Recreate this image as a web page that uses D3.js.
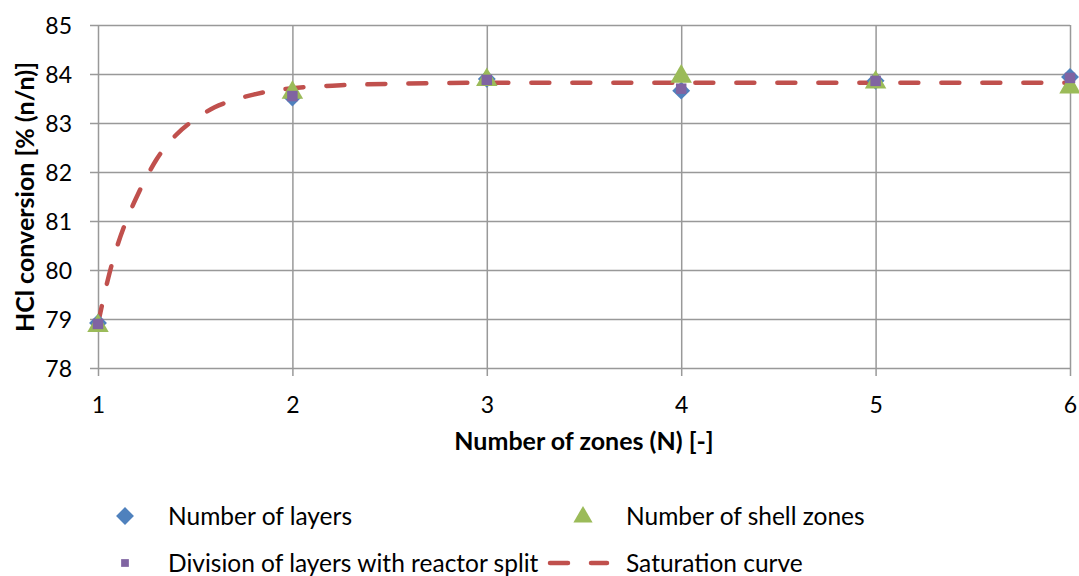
<!DOCTYPE html>
<html><head><meta charset="utf-8">
<script src="https://cdn.jsdelivr.net/npm/d3@7"></script>
<style>
html,body{margin:0;padding:0;background:#fff;}
text{font-family:Lato,"Open Sans",sans-serif;fill:#000;}
</style></head>
<body><svg id="chart" width="1079" height="576"></svg>
<script>
const zones = [1, 2, 3, 4, 5, 6];
const layers = [78.92, 83.52, 83.90, 83.66, 83.86, 83.94];
const shellZones = [78.88, 83.64, 83.90, 83.97, 83.85, 83.75];
const divisionSplit = [78.90, 83.55, 83.88, 83.70, 83.86, 83.92];
const curveX = [1, 1.03, 1.06, 1.1, 1.15, 1.2, 1.25, 1.3, 1.4, 1.5, 1.6, 1.7, 1.8, 1.9, 2, 2.25, 2.5, 3, 4, 5, 6];
const curveY = [78.9, 79.45, 79.95, 80.5, 81.05, 81.5, 81.9, 82.25, 82.75, 83.08, 83.32, 83.47, 83.58, 83.66, 83.71, 83.77, 83.80, 83.82, 83.82, 83.82, 83.82];
const yTicks = [78, 79, 80, 81, 82, 83, 84, 85];
const xTicks = [1, 2, 3, 4, 5, 6];
const legendItems = ["Number of layers", "Number of shell zones", "Division of layers with reactor split", "Saturation curve"];
const xTitle = "Number of zones (N) [-]";
const yTitle = "HCl conversion [% (n/n)]";

const C = {blue:"#4F81BD", green:"#9BBB59", purple:"#8064A2", red:"#C0504D", grid:"#999999"};
const svg = d3.select("#chart");
const x = d3.scaleLinear().domain([1, 6]).range([98, 1070]);
const y = d3.scaleLinear().domain([78, 85]).range([368, 25]);

// horizontal gridlines (y axis with long ticks)
const yAxis = d3.axisLeft(y).tickValues(yTicks).tickSize(-(1070 - 90)).tickPadding(0).tickFormat(d3.format("d"));
const gy = svg.append("g").attr("transform", "translate(90,0)").call(yAxis);
gy.select(".domain").remove();
gy.selectAll("line").attr("stroke", C.grid).attr("stroke-width", 1.5);
gy.selectAll("text").attr("x", -18).attr("font-size", 23).attr("dy", "0.35em");

// vertical gridlines
const xAxis = d3.axisBottom(x).tickValues(xTicks).tickSize(-(368 - 25)).tickFormat(d3.format("d")).tickSizeOuter(0);
const gx = svg.append("g").attr("transform", "translate(0,368)").call(xAxis);
gx.select(".domain").remove();
gx.selectAll("line").attr("stroke", C.grid).attr("stroke-width", 1.5).attr("y1", 8);
gx.selectAll("text").attr("y", 45).attr("dy", 0).attr("font-size", 23);

// axis titles
svg.append("text").attr("x", 584).attr("y", 450).attr("text-anchor", "middle")
  .attr("font-size", 25).attr("font-weight", "bold").text(xTitle);
svg.append("text").attr("transform", "translate(34,197) rotate(-90)").attr("text-anchor", "middle")
  .attr("font-size", 25).attr("font-weight", "bold").text(yTitle);

// saturation curve
const line = d3.line().x((d, i) => x(curveX[i])).y(d => y(d)).curve(d3.curveMonotoneX);
svg.append("path").datum(curveY).attr("d", line).attr("fill", "none")
  .attr("stroke", C.red).attr("stroke-width", 4.5).attr("stroke-linecap", "round")
  .attr("stroke-dasharray", "18,23");

const diamond = d3.symbol().type(d3.symbolSquare).size(160);
const tri = d3.symbol().type(d3.symbolTriangle).size(200);
const sq = d3.symbol().type(d3.symbolSquare).size(110);

svg.append("g").selectAll("path").data(layers).join("path")
  .attr("d", diamond).attr("fill", C.blue)
  .attr("transform", (d, i) => `translate(${x(zones[i])},${y(d)}) rotate(45)`);
svg.append("g").selectAll("path").data(shellZones).join("path")
  .attr("d", tri).attr("fill", C.green)
  .attr("transform", (d, i) => `translate(${x(zones[i])},${y(d) + 1})`);
svg.append("g").selectAll("path").data(divisionSplit).join("path")
  .attr("d", sq).attr("fill", C.purple)
  .attr("transform", (d, i) => `translate(${x(zones[i])},${y(d)})`);

// legend
const lg = svg.append("g");
lg.append("path").attr("d", d3.symbol().type(d3.symbolSquare).size(160)).attr("fill", C.blue)
  .attr("transform", "translate(125,516) rotate(45)");
lg.append("path").attr("d", d3.symbol().type(d3.symbolTriangle).size(160)).attr("fill", C.green)
  .attr("transform", "translate(583,517)");
lg.append("path").attr("d", d3.symbol().type(d3.symbolSquare).size(60)).attr("fill", C.purple)
  .attr("transform", "translate(125,563)");
lg.append("line").attr("x1", 550).attr("x2", 607).attr("y1", 563).attr("y2", 563)
  .attr("stroke", C.red).attr("stroke-width", 4.5).attr("stroke-linecap", "round").attr("stroke-dasharray", "18,23");
const lpos = [[168, 516], [626, 516], [168, 563], [626, 563]];
lg.selectAll("text").data(legendItems).join("text")
  .attr("x", (d, i) => lpos[i][0]).attr("y", (d, i) => lpos[i][1]).attr("dy", "0.35em")
  .attr("font-size", 24.5).text(d => d);
</script></body></html>
